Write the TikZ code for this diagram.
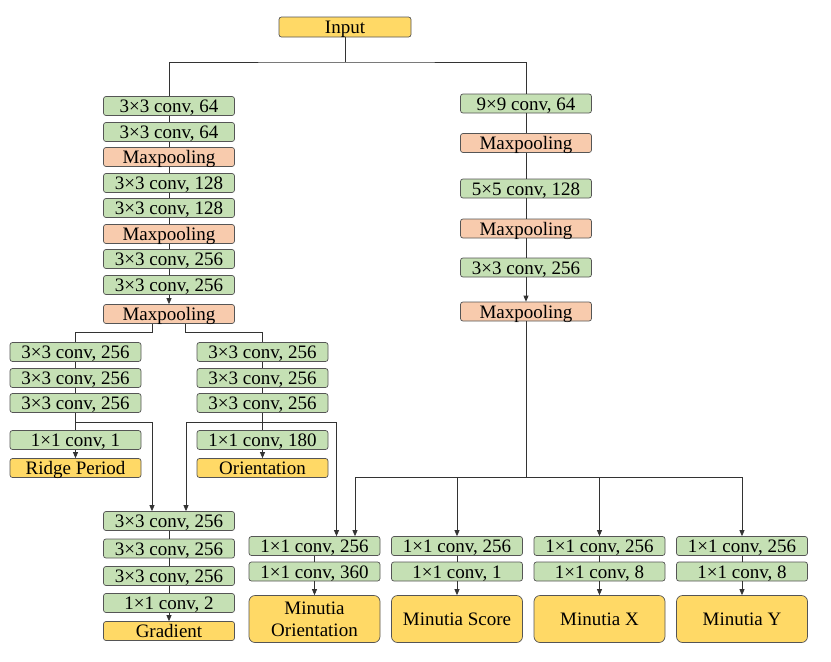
\documentclass[tikz,border=0pt]{standalone}
\usepackage{fontspec}
\setmainfont{Liberation Serif}
\newfontfamily\tnr{Liberation Serif}
\usetikzlibrary{arrows.meta}
\definecolor{cgreen}{HTML}{C5E0B4}
\definecolor{corange}{HTML}{F8CBAD}
\definecolor{cyellow}{HTML}{FFD966}
\definecolor{cline}{HTML}{333333}
\definecolor{cborder}{HTML}{555555}
\tikzset{
  box/.style={draw=cborder, line width=0.7pt, rounded corners=2.5pt, minimum width=131pt, minimum height=19pt, inner sep=0pt, text height=14.5pt, text depth=1.5pt, font=\tnr\fontsize{19}{22}\selectfont},
  gbox/.style={box, fill=cgreen},
  obox/.style={box, fill=corange},
  ybox/.style={box, fill=cyellow},
  bigbox/.style={box, fill=cyellow, minimum height=47pt, rounded corners=6pt, align=center, text height=, text depth=},
  conn/.style={draw=cline, line width=0.8pt},
  arr/.style={conn, -{Triangle[length=6pt,width=5pt]}}
}
\begin{document}
\begin{tikzpicture}[x=1pt,y=-1pt]
\useasboundingbox (0,0) rectangle (831,662);
% top
\node[ybox, minimum width=132pt, minimum height=20pt] (in) at (345,27) {Input};
% left column
\node[gbox] (l1) at (169,106) {3×3 conv, 64};
\node[gbox] (l2) at (169,132) {3×3 conv, 64};
\node[obox] (l3) at (169,157) {Maxpooling};
\node[gbox] (l4) at (169,183) {3×3 conv, 128};
\node[gbox] (l5) at (169,208) {3×3 conv, 128};
\node[obox] (l6) at (169,234) {Maxpooling};
\node[gbox] (l7) at (169,259) {3×3 conv, 256};
\node[gbox] (l8) at (169,285) {3×3 conv, 256};
\node[obox] (l9) at (169,314) {Maxpooling};
% right column
\node[gbox] (r1) at (526,103.5) {9×9 conv, 64};
\node[obox] (r2) at (526,143) {Maxpooling};
\node[gbox] (r3) at (526,188.5) {5×5 conv, 128};
\node[obox] (r4) at (526,228.5) {Maxpooling};
\node[gbox] (r5) at (526,267.5) {3×3 conv, 256};
\node[obox] (r6) at (526,311.5) {Maxpooling};
% sub-left
\node[gbox] (a1) at (75.5,352) {3×3 conv, 256};
\node[gbox] (a2) at (75.5,378) {3×3 conv, 256};
\node[gbox] (a3) at (75.5,403) {3×3 conv, 256};
\node[gbox] (a4) at (75.5,440) {1×1 conv, 1};
\node[ybox] (a5) at (75.5,468) {Ridge Period};
% sub-middle
\node[gbox] (b1) at (262.5,352) {3×3 conv, 256};
\node[gbox] (b2) at (262.5,378) {3×3 conv, 256};
\node[gbox] (b3) at (262.5,403) {3×3 conv, 256};
\node[gbox] (b4) at (262.5,440) {1×1 conv, 180};
\node[ybox] (b5) at (262.5,468) {Orientation};
% gradient column
\node[gbox] (g1) at (169,521) {3×3 conv, 256};
\node[gbox] (g2) at (169,548.5) {3×3 conv, 256};
\node[gbox] (g3) at (169,576) {3×3 conv, 256};
\node[gbox] (g4) at (169,603) {1×1 conv, 2};
\node[ybox] (g5) at (169,631) {Gradient};
% minutia columns
\node[gbox] (m1a) at (314.5,546) {1×1 conv, 256};
\node[gbox] (m1b) at (314.5,571.5) {1×1 conv, 360};
\node[bigbox] (m1c) at (314.5,619) {Minutia\\Orientation};
\node[gbox] (m2a) at (457,546) {1×1 conv, 256};
\node[gbox] (m2b) at (457,571.5) {1×1 conv, 1};
\node[bigbox] (m2c) at (457,619) {Minutia Score};
\node[gbox] (m3a) at (599.5,546) {1×1 conv, 256};
\node[gbox] (m3b) at (599.5,571.5) {1×1 conv, 8};
\node[bigbox] (m3c) at (599.5,619) {Minutia X};
\node[gbox] (m4a) at (742,546) {1×1 conv, 256};
\node[gbox] (m4b) at (742,571.5) {1×1 conv, 8};
\node[bigbox] (m4c) at (742,619) {Minutia Y};
% coordinates
\coordinate (split) at (345,62);
\coordinate (la) at (152,332);
\coordinate (lb) at (185,332);
\coordinate (ga) at (152,422);
\coordinate (gb) at (186,422);
\coordinate (mo) at (336.5,422);
\coordinate (hb) at (526,477);
\coordinate (hl) at (355,477);
\coordinate (hr) at (742,477);
% top connections
\draw[conn] (in.south) -- (split);
\draw[conn] (l1.north) |- (split) -| (r1.north);
% left column
\foreach \a/\b in {l1/l2,l2/l3,l3/l4,l4/l5,l5/l6,l6/l7,l7/l8} \draw[conn] (\a.south) -- (\b.north);
\draw[arr] (l8.south) -- (l9.north);
% right column
\foreach \a/\b in {r1/r2,r2/r3,r3/r4,r4/r5} \draw[conn] (\a.south) -- (\b.north);
\draw[arr] (r5.south) -- (r6.north);
% split after l9
\draw[conn] (l9.south -| la) -- (la) -| (a1.north);
\draw[conn] (l9.south -| lb) -- (lb) -| (b1.north);
% sub-columns
\foreach \a/\b in {a1/a2,a2/a3,a3/a4,b1/b2,b2/b3,b3/b4,g1/g2,g2/g3,g3/g4,m1a/m1b,m2a/m2b,m3a/m3b,m4a/m4b} \draw[conn] (\a.south) -- (\b.north);
\foreach \a/\b in {a4/a5,b4/b5,g4/g5,m1b/m1c,m2b/m2c,m3b/m3c,m4b/m4c} \draw[arr] (\a.south) -- (\b.north);
% to gradient
\draw[arr] (a3.south |- ga) -- (ga) -- (g1.north -| ga);
\draw[arr] (b3.south |- gb) -- (gb) -- (g1.north -| gb);
\draw[arr] (b3.south |- mo) -- (mo) -- (m1a.north -| mo);
% right to minutia
\draw[conn] (r6.south) -- (hb);
\draw[conn] (hl) -- (hr);
\draw[arr] (hl) -- (m1a.north -| hl);
\draw[arr] (m2a.north |- hl) -- (m2a.north);
\draw[arr] (m3a.north |- hl) -- (m3a.north);
\draw[arr] (hr) -- (m4a.north);
\end{tikzpicture}
\end{document}
